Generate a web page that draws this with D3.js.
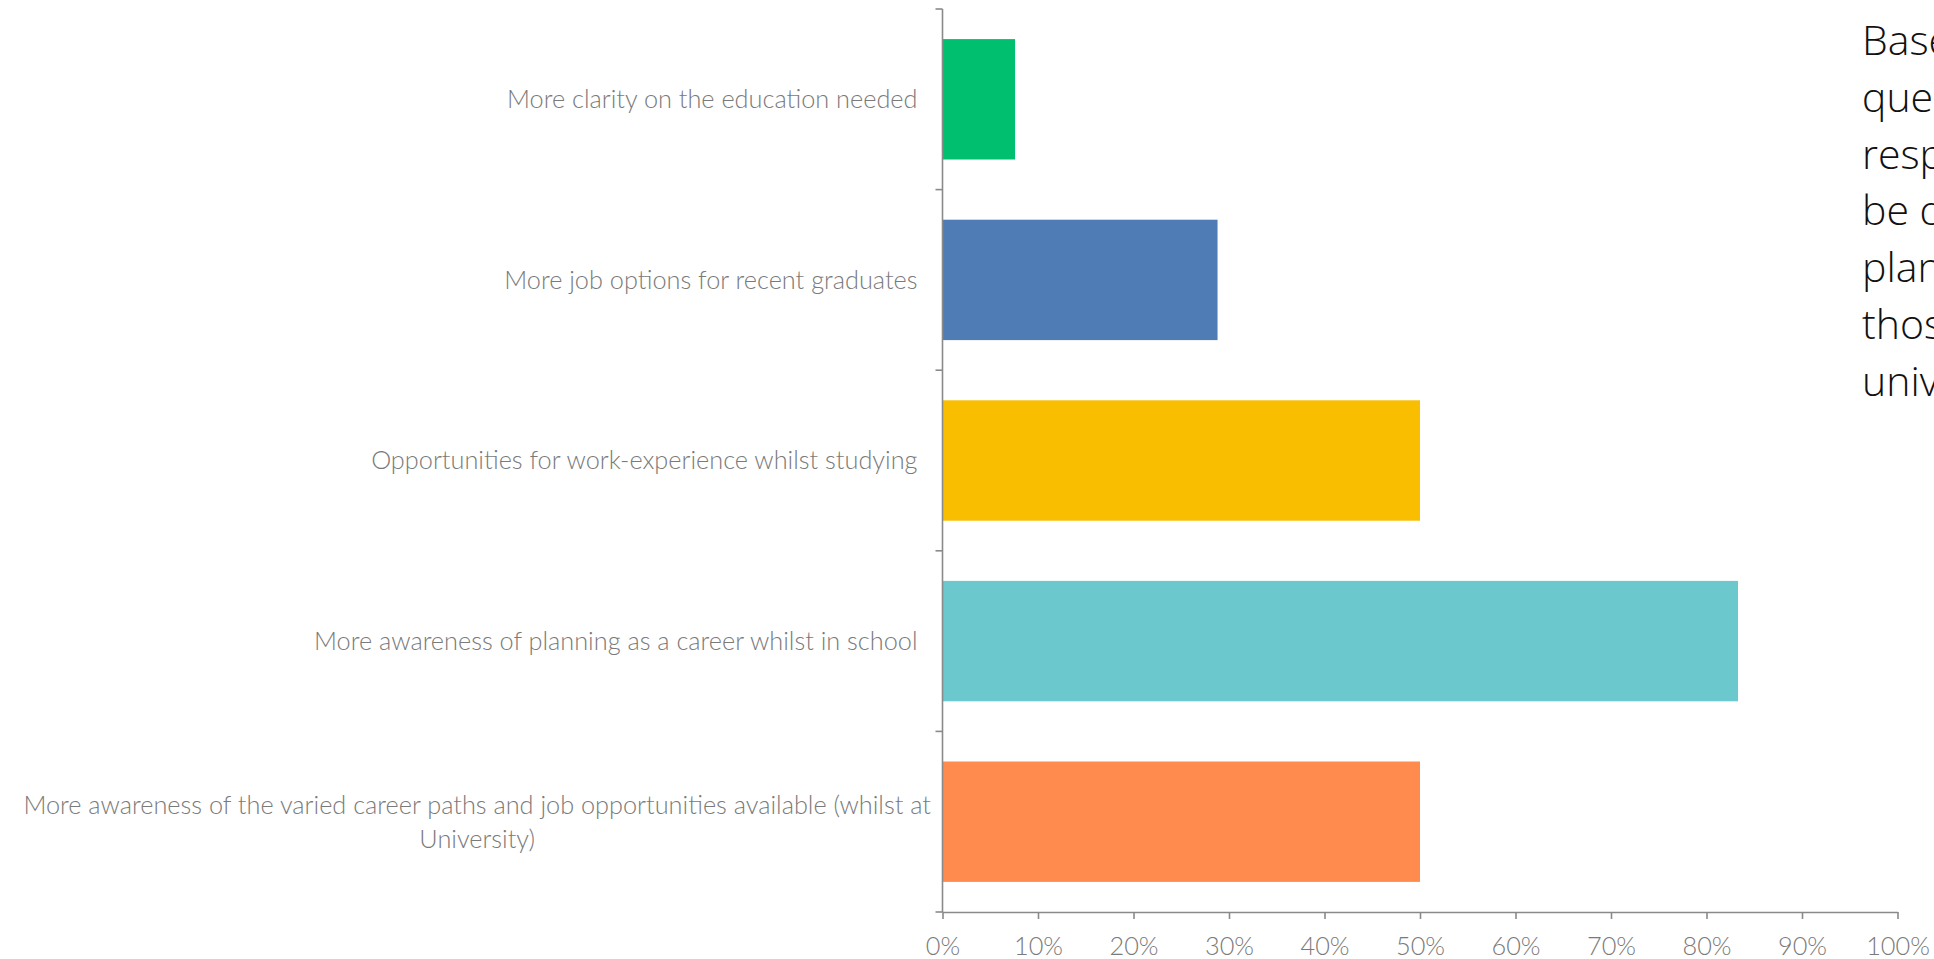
<!DOCTYPE html>
<html>
<head>
<meta charset="utf-8">
<script src="https://cdn.jsdelivr.net/npm/d3@7"></script>
<style>
  html, body { margin: 0; padding: 0; background: #fff; overflow: hidden; }
  svg { display: block; }
</style>
</head>
<body>
<svg id="chart" width="1934" height="959"></svg>
<script>
// Survey responses: what would help most (share of respondents)
const categories = [
  "More clarity on the education needed",
  "More job options for recent graduates",
  "Opportunities for work-experience whilst studying",
  "More awareness of planning as a career whilst in school",
  "More awareness of the varied career paths and job opportunities available (whilst at University)"
];
const shares = [0.076, 0.288, 0.50, 0.833, 0.50];
const barColors = ["#00BF6F", "#507CB6", "#F9BE00", "#6BC8CD", "#FF8B4F"];
const xTicks = [0, 0.1, 0.2, 0.3, 0.4, 0.5, 0.6, 0.7, 0.8, 0.9, 1.0];
const noteLines = [
  "Based on the",
  "questionnaire",
  "responses, more should",
  "be done to promote",
  "planning as a career to",
  "those at school and",
  "university."
];

const svg = d3.select("#chart");
const axisColor = "#8a8a8a";
const labelColor = "#7a7a7a";
const labelFont = "Lato, 'Open Sans', sans-serif";
const labelSize = "25.3px";

const plot = { left: 942.5, right: 1897.5, top: 9, bottom: 912 };

const x = d3.scaleLinear().domain([0, 1]).range([plot.left, plot.right]);
const y = d3.scaleBand()
  .domain(categories)
  .range([plot.top, plot.bottom])
  .paddingInner(1 / 3)
  .paddingOuter(1 / 6);

// Bars
svg.append("g")
  .selectAll("rect")
  .data(categories)
  .join("rect")
  .attr("x", x(0))
  .attr("y", d => y(d))
  .attr("width", (d, i) => x(shares[i]) - x(0))
  .attr("height", y.bandwidth())
  .attr("fill", (d, i) => barColors[i]);

// X axis
const xAxis = svg.append("g")
  .attr("transform", `translate(0,${plot.bottom})`)
  .call(d3.axisBottom(x).tickValues(xTicks).tickFormat(d3.format(".0%")).tickSize(7).tickPadding(18).tickSizeOuter(0));
xAxis.select(".domain").attr("stroke", axisColor).attr("stroke-width", 1.6);
xAxis.selectAll(".tick line").attr("stroke", axisColor).attr("stroke-width", 1.6);
xAxis.selectAll(".tick text")
  .attr("fill", labelColor)
  .style("font-family", labelFont)
  .style("font-weight", 300)
  .style("font-size", labelSize);

// Y axis: line plus tick marks on the category boundaries
const yAxis = svg.append("g");
yAxis.append("line")
  .attr("x1", x(0)).attr("x2", x(0))
  .attr("y1", plot.top).attr("y2", plot.bottom)
  .attr("stroke", axisColor).attr("stroke-width", 1.6);
const boundaries = d3.range(categories.length + 1).map(i => plot.top + i * y.step());
yAxis.selectAll("line.tick")
  .data(boundaries)
  .join("line")
  .attr("class", "tick")
  .attr("x1", x(0) - 7).attr("x2", x(0))
  .attr("y1", d => d).attr("y2", d => d)
  .attr("stroke", axisColor).attr("stroke-width", 1.6);

// Category labels, wrapped to the label area and centred as a block
const labelRight = 917.5;
const maxLabelWidth = 930;
const lineGap = 34;
const labels = svg.append("g")
  .style("font-family", labelFont)
  .style("font-weight", 300)
  .style("font-size", labelSize)
  .attr("fill", labelColor);

categories.forEach(cat => {
  const words = cat.split(" ");
  const probe = labels.append("text");
  const lines = [];
  let line = [];
  words.forEach(w => {
    const attempt = line.concat(w).join(" ");
    probe.text(attempt);
    if (probe.node().getComputedTextLength() > maxLabelWidth && line.length) {
      lines.push(line.join(" "));
      line = [w];
    } else {
      line.push(w);
    }
  });
  lines.push(line.join(" "));
  const widths = lines.map(l => { probe.text(l); return probe.node().getComputedTextLength(); });
  probe.remove();

  const cy = y(cat) + y.bandwidth() / 2;
  const blockW = d3.max(widths);
  const startY = cy - (lines.length - 1) * lineGap / 2;
  lines.forEach((l, i) => {
    const t = labels.append("text")
      .attr("y", startY + i * lineGap)
      .attr("dy", "0.35em")
      .text(l);
    if (lines.length === 1) {
      t.attr("x", labelRight).attr("text-anchor", "end");
    } else {
      t.attr("x", labelRight + 13.5 - blockW / 2).attr("text-anchor", "middle");
    }
  });
});

// Side note, running past the right edge of the page
const note = svg.append("text")
  .attr("x", 1862)
  .attr("y", 55)
  .attr("fill", "#111")
  .style("font-family", "'Open Sans', Lato, sans-serif")
  .style("font-weight", 300)
  .style("font-size", "41px");
note.selectAll("tspan")
  .data(noteLines)
  .join("tspan")
  .attr("x", 1862)
  .attr("dy", (d, i) => i === 0 ? 0 : 56.8)
  .text(d => d);
</script>
</body>
</html>
